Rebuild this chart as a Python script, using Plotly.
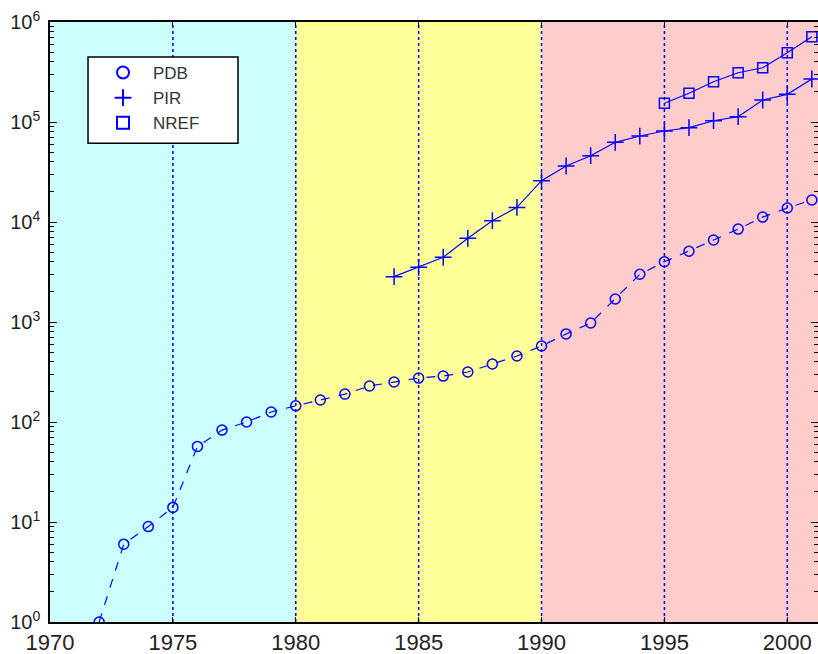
import plotly.graph_objects as go

# ---- data ----
pdb_years = list(range(1972, 2002))
pdb_values = [1, 6, 9, 14, 57, 83, 100, 126, 145, 166, 190, 229, 251, 275, 288,
              316, 380, 457, 575, 760, 977, 1700, 3000, 4000, 5100, 6600, 8500,
              11200, 13800, 16600]

pir_years = list(range(1984, 2002))
pir_values = [2840, 3520, 4440, 6870, 10300, 14000, 25900, 36300, 46000, 62600,
              72400, 81300, 87700, 103000, 113000, 166000, 189000, 269000]

nref_years = list(range(1995, 2002))
nref_values = [154000, 194000, 253000, 311000, 349000, 493000, 713000]

x_ticks = [1970, 1975, 1980, 1985, 1990, 1995, 2000]
y_tick_vals = [1, 10, 100, 1000, 10000, 100000, 1000000]
y_tick_text = ["10<sup>%d</sup>" % i for i in range(7)]

# era bands: (start, end, colour)
eras = [(1970, 1980, "#CCFFFF"), (1980, 1990, "#FFFF99"), (1990, 2002, "#FFCCCC")]
vlines = [1975, 1980, 1985, 1990, 1995, 2000]

BLUE = "#0000FF"

fig = go.Figure()

fig.add_trace(go.Scatter(x=pdb_years, y=pdb_values, mode="lines+markers",
                         line=dict(color=BLUE, width=1.2, dash="dash"),
                         marker=dict(symbol="circle-open", size=10, color=BLUE,
                                     line=dict(width=1.5, color=BLUE)),
                         showlegend=False))
fig.add_trace(go.Scatter(x=pir_years, y=pir_values, mode="lines+markers",
                         line=dict(color=BLUE, width=1.2),
                         marker=dict(symbol="cross-thin-open", size=12, color=BLUE,
                                     line=dict(width=1.5, color=BLUE)),
                         showlegend=False))
fig.add_trace(go.Scatter(x=nref_years, y=nref_values, mode="lines+markers",
                         line=dict(color=BLUE, width=1.2),
                         marker=dict(symbol="square-open", size=10, color=BLUE,
                                     line=dict(width=1.5, color=BLUE)),
                         showlegend=False))

# legend-only entries (markers only, like the reference legend)
for name, sym, sz in [("PDB", "circle-open", 8), ("PIR", "cross-thin-open", 10),
                      ("NREF", "square-open", 8)]:
    fig.add_trace(go.Scatter(x=[None], y=[None], mode="markers", name=name,
                             marker=dict(symbol=sym, size=sz, color=BLUE,
                                         line=dict(width=1.5, color=BLUE))))

shapes = []
for x0, x1, c in eras:
    shapes.append(dict(type="rect", xref="x", yref="paper", x0=x0, x1=x1, y0=0, y1=1,
                       fillcolor=c, line=dict(width=0), layer="below"))
for xv in vlines:
    shapes.append(dict(type="line", xref="x", yref="paper", x0=xv, x1=xv, y0=0, y1=1,
                       line=dict(color=BLUE, width=1.5, dash="dot"), layer="below"))
# legend frame
shapes.append(dict(type="rect", xref="paper", yref="paper", x0=0.0495, x1=0.2448,
                   y0=0.798, y1=0.9417, fillcolor="white",
                   line=dict(color="black", width=1.5), layer="above"))

minor_vals = [m * 10 ** k for k in range(6) for m in range(2, 10)]

fig.update_layout(
    width=818, height=654,
    margin=dict(l=50, r=0, t=22, b=32, autoexpand=False),
    paper_bgcolor="white",
    plot_bgcolor="white",
    shapes=shapes,
    font=dict(family="Liberation Sans, Arial, sans-serif", size=16, color="#222222"),
    showlegend=True,
    legend=dict(x=0.056, y=0.945, xanchor="left", yanchor="top",
                bgcolor="rgba(0,0,0,0)", borderwidth=0,
                font=dict(size=17, color="#333333"),
                itemwidth=50, itemsizing="constant", tracegroupgap=0),
)

fig.update_xaxes(range=[1970, 2001.25], tickvals=x_ticks, ticks="inside", ticklen=5,
                 tickcolor="black", showgrid=False, zeroline=False, automargin=False,
                 showline=True, linecolor="black", linewidth=1.5, mirror="ticks",
                 ticklabelstandoff=0,
                 tickfont=dict(size=22, color="#222222"))
fig.update_yaxes(type="log", range=[0, 6], tickvals=y_tick_vals, ticktext=y_tick_text,
                 ticks="inside", ticklen=7, tickcolor="black", showgrid=False,
                 zeroline=False, showline=True, linecolor="black", linewidth=1.5,
                 automargin=False, ticklabelstandoff=4,
                 mirror="ticks", tickfont=dict(size=20, color="#222222"),
                 minor=dict(tickvals=minor_vals, ticks="inside", ticklen=4,
                            tickcolor="black", showgrid=False))

fig.write_html("out.html", config={"displayModeBar": False},
               post_script="document.body.style.margin='0';document.body.style.overflow='hidden';")
